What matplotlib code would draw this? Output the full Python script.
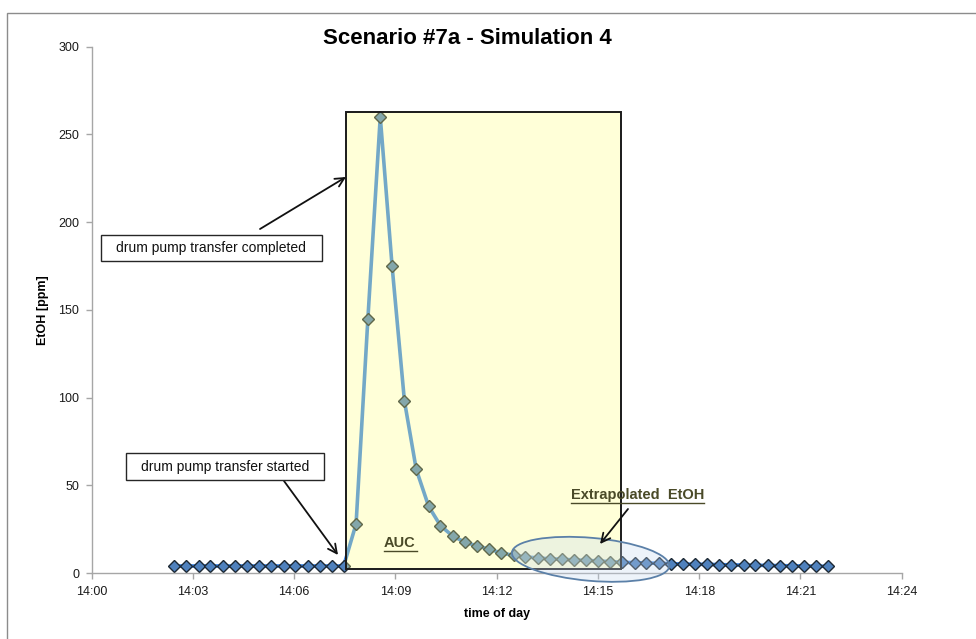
import matplotlib
matplotlib.use("Agg")
import matplotlib.pyplot as plt
import matplotlib.dates as mdates
import matplotlib.transforms as mtransforms
from matplotlib.patches import Rectangle, Ellipse
import pandas as pd

plt.rcParams["font.family"] = ["Liberation Sans", "DejaVu Sans"]

# EtOH readings (ppm) against time of day
times = [
    "14:02:27", "14:02:48", "14:03:10", "14:03:31", "14:03:53", "14:04:14",
    "14:04:36", "14:04:58", "14:05:19", "14:05:41", "14:06:02", "14:06:24",
    "14:06:45", "14:07:07", "14:07:28", "14:07:50", "14:08:11", "14:08:33",
    "14:08:54", "14:09:16", "14:09:37", "14:09:59", "14:10:20", "14:10:42",
    "14:11:04", "14:11:25", "14:11:47", "14:12:08", "14:12:30", "14:12:51",
    "14:13:13", "14:13:34", "14:13:56", "14:14:17", "14:14:39", "14:15:00",
    "14:15:22", "14:15:43", "14:16:05", "14:16:26", "14:16:48", "14:17:10",
    "14:17:31", "14:17:53", "14:18:14", "14:18:36", "14:18:57", "14:19:19",
    "14:19:40", "14:20:02", "14:20:23", "14:20:45", "14:21:06", "14:21:28",
    "14:21:49",
]
etoh_ppm = [
    4.0, 4.0, 4.0, 4.0, 4.0, 4.0, 4.0, 4.0, 4.0, 4.0, 4.0, 4.0, 4.0, 4.0, 4.0,
    28, 145, 260, 175, 98, 59, 38, 27, 21, 17.5, 15.5, 13.5, 11.5, 10, 9.2,
    8.6, 8.1, 7.8, 7.5, 7.2, 6.9, 6.5, 6.1, 5.9, 5.7, 5.5, 5.3, 5.1, 5.0,
    4.9, 4.8, 4.6, 4.5, 4.4, 4.3, 4.2, 4.1, 4.0, 3.9, 3.8,
]
y_ticks = [0, 50, 100, 150, 200, 250, 300]

day = "2000-01-01 "
t = pd.to_datetime([day + s for s in times])
x_start = pd.Timestamp(day + "14:00:00")
x_end = pd.Timestamp(day + "14:24:00")

W, H = 976, 639
fig = plt.figure(figsize=(W / 100, H / 100), dpi=100)
ax = fig.add_axes([91.7 / W, 1 - 573 / H, 810 / W, 526.3 / H])

axis_grey = "#a6a6a6"
ax.plot(t, etoh_ppm, color="#3783e7", lw=2.6, zorder=2,
        marker="D", ms=6.2, mfc="#4f81bd", mec="#1c2833", mew=1.0)

ax.set_xlim(x_start, x_end)
ax.set_ylim(0, 300)
ax.set_yticks(y_ticks)
ax.xaxis.set_major_locator(mdates.MinuteLocator(byminute=range(0, 60, 3)))
ax.xaxis.set_major_formatter(mdates.DateFormatter("%H:%M"))

for side in ("top", "right"):
    ax.spines[side].set_visible(False)
for side in ("left", "bottom"):
    ax.spines[side].set_color(axis_grey)
    ax.spines[side].set_linewidth(1.0)
ax.tick_params(axis="both", direction="out", length=4, width=1,
               color=axis_grey, labelsize=9, labelcolor="#1a1a1a")
ax.tick_params(axis="y", pad=5)
ax.tick_params(axis="x", pad=5.5)

ax.set_xlabel("time of day", fontsize=9, fontweight="bold", labelpad=7)
ax.set_ylabel("EtOH [ppm]", fontsize=9, fontweight="bold")
ax.yaxis.set_label_coords(-(91.7 - 49) / 810, 0.5)

# shaded integration window
win_x0 = mdates.date2num(pd.Timestamp(day + "14:07:31.5"))
win_x1 = mdates.date2num(pd.Timestamp(day + "14:15:41"))
ax.add_patch(Rectangle((win_x0, 2), win_x1 - win_x0, 261,
                       facecolor="#ffff80", alpha=0.3, edgecolor="none",
                       zorder=3))
ax.add_patch(Rectangle((win_x0, 2), win_x1 - win_x0, 261,
                       facecolor="none", edgecolor="#1a1a1a", lw=1.4,
                       zorder=4))

# ellipse marking the extrapolated tail
ell_c = (mdates.date2num(pd.Timestamp(day + "14:14:47")), 7.8)
ell_tr = fig.dpi_scale_trans + mtransforms.ScaledTranslation(
    ell_c[0], ell_c[1], ax.transData)
ax.add_patch(Ellipse((0, 0), 1.58, 0.43, angle=-5, transform=ell_tr,
                     facecolor="#c6d9f1", alpha=0.3, edgecolor="none",
                     zorder=5, clip_on=False))
ax.add_patch(Ellipse((0, 0), 1.58, 0.43, angle=-5, transform=ell_tr,
                     facecolor="none", edgecolor="#5b80a8", lw=1.3,
                     zorder=6, clip_on=False))

label_col = "#4a4a28"
ax.annotate("AUC", xy=(400, H - 543), xycoords="figure pixels",
            ha="center", va="center", fontsize=10.5, fontweight="bold",
            color=label_col, zorder=7)
fig.add_artist(plt.Line2D([384 / W, 417 / W], [1 - 551 / H, 1 - 551 / H],
                          color=label_col, lw=1.0))
ax.annotate("Extrapolated  EtOH", xy=(637.5, H - 495),
            xycoords="figure pixels", ha="center", va="center",
            fontsize=10.5, fontweight="bold", color=label_col, zorder=7)
fig.add_artist(plt.Line2D([571 / W, 704 / W], [1 - 503 / H, 1 - 503 / H],
                          color=label_col, lw=1.0))


def arrow(tip, tail):
    ax.annotate("", xy=(tip[0], H - tip[1]), xycoords="figure pixels",
                xytext=(tail[0], H - tail[1]), textcoords="figure pixels",
                arrowprops=dict(arrowstyle="->", color="#111111", lw=1.3,
                                mutation_scale=16, shrinkA=0, shrinkB=0),
                zorder=8)


def callout(text, box, tip, tail):
    x0, y0, x1, y1 = box
    fig.add_artist(Rectangle((x0, H - y1), x1 - x0, y1 - y0,
                             transform=None, facecolor="white",
                             edgecolor="#262626", lw=1.0, zorder=8))
    fig.text((x0 + x1) / 2 / W, 1 - (y0 + y1) / 2 / H, text,
             ha="center", va="center", fontsize=10, color="#111111",
             zorder=9)
    arrow(tip, tail)


callout("drum pump transfer completed", (100.7, 235, 321.7, 260.7),
        tip=(346, 177), tail=(260, 229))
callout("drum pump transfer started", (126, 453.3, 324.3, 480),
        tip=(338, 555), tail=(284, 481))
arrow(tip=(600, 544), tail=(628, 509))

fig.text(467 / W, 1 - 39 / H, "Scenario #7a - Simulation 4",
         ha="center", va="center", fontsize=16, fontweight="bold")

# chart area border
fig.add_artist(Rectangle((7, -20), 1000, H - 13 + 20, transform=None,
                         facecolor="none", edgecolor="#8c8c8c", lw=1.0))

fig.savefig("out.png", dpi=100)
